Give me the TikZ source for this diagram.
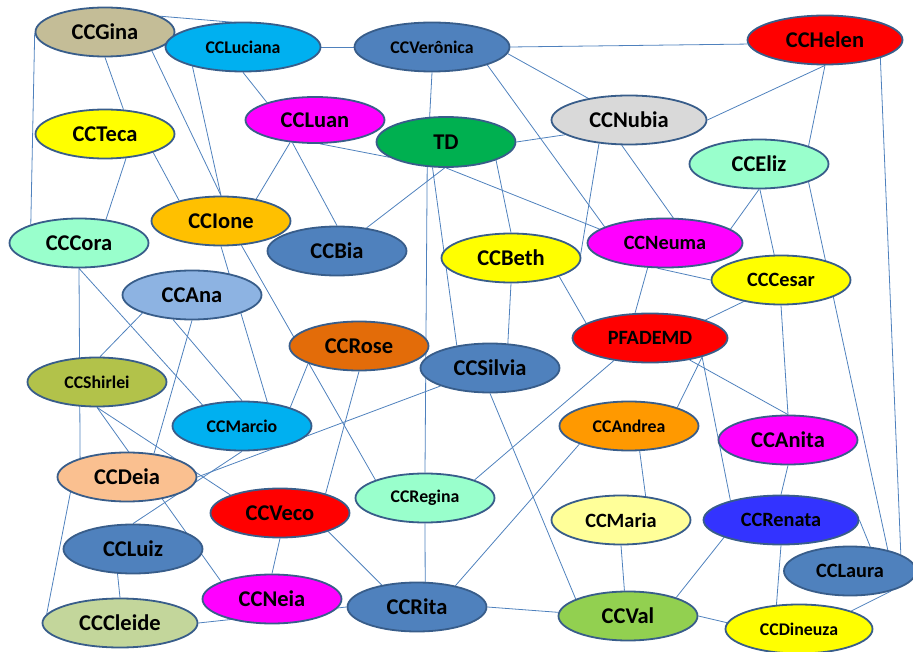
\documentclass[tikz,border=0pt]{standalone}
\usepackage{fontspec}
\setmainfont{Carlito}
\usetikzlibrary{shapes.geometric,backgrounds}
\definecolor{rim}{HTML}{385D8A}
\definecolor{wire}{HTML}{4F81BD}
\definecolor{cTan}{HTML}{C4BD97}
\definecolor{cSky}{HTML}{00B0F0}
\definecolor{cSteel}{HTML}{4F81BD}
\definecolor{cRed}{HTML}{FF0000}
\definecolor{cYellow}{HTML}{FFFF00}
\definecolor{cMagenta}{HTML}{FF00FF}
\definecolor{cGreen}{HTML}{00B050}
\definecolor{cGray}{HTML}{D9D9D9}
\definecolor{cMint}{HTML}{99FFCC}
\definecolor{cGold}{HTML}{FFC000}
\definecolor{cPale}{HTML}{8DB3E2}
\definecolor{cRust}{HTML}{E36C09}
\definecolor{cOlive}{HTML}{B2C24A}
\definecolor{cOrange}{HTML}{FF9900}
\definecolor{cPeach}{HTML}{FAC090}
\definecolor{cCream}{HTML}{FFFF99}
\definecolor{cBlue}{HTML}{3333FF}
\definecolor{cLime}{HTML}{92D050}
\definecolor{cSage}{HTML}{C3D69B}

\begin{document}
\begin{tikzpicture}[x=1pt,y=-1pt,
    main node/.style={ellipse,draw=rim,line width=1.8pt,inner sep=0pt,
      minimum width=139pt,minimum height=49pt,
      font=\bfseries\fontsize{22.5}{26}\selectfont},
    mid/.style={font=\bfseries\fontsize{20.3}{24}\selectfont},
    small/.style={font=\bfseries\fontsize{17.8}{21}\selectfont},
    wide/.style={minimum width=155pt},
    link/.style={draw=wire,line width=0.8pt}]
  \useasboundingbox (0,0) rectangle (913,652);
  % Nodes
  \node[main node, fill=cTan] (Gina) at (105,32) {CCGina};
  \node[main node, small, wide, fill=cSky] (Luciana) at (243,47) {CCLuciana};
  \node[main node, small, wide, fill=cSteel] (Veronica) at (432,47) {CCVerônica};
  \node[main node, wide, fill=cRed] (Helen) at (825,40) {CCHelen};
  \node[main node, fill=cYellow] (Teca) at (105,134) {CCTeca};
  \node[main node, fill=cMagenta, minimum height=46pt] (Luan) at (315,120) {CCLuan};
  \node[main node, fill=cGreen, minimum height=50pt] (TD) at (446,142) {TD};
  \node[main node, wide, fill=cGray] (Nubia) at (629,120) {CCNubia};
  \node[main node, fill=cMint] (Eliz) at (759,164) {CCEliz};
  \node[main node, fill=cMint] (Cora) at (79,243) {CCCora};
  \node[main node, fill=cGold] (Ione) at (221,221) {CCIone};
  \node[main node, fill=cSteel] (Bia) at (337,251) {CCBia};
  \node[main node, fill=cYellow] (Beth) at (511,258) {CCBeth};
  \node[main node, mid, wide, fill=cMagenta] (Neuma) at (665,243) {CCNeuma};
  \node[main node, mid, fill=cYellow] (Cesar) at (781,280) {CCCesar};
  \node[main node, fill=cPale] (Ana) at (192,295) {CCAna};
  \node[main node, mid, wide, fill=cRed] (PF) at (650,338) {PFADEMD};
  \node[main node, fill=cRust] (Rose) at (359,346) {CCRose};
  \node[main node, fill=cSteel] (Silvia) at (490,368) {CCSilvia};
  \node[main node, small, fill=cOlive] (Shirlei) at (97,382) {CCShirlei};
  \node[main node, small, fill=cSky] (Marcio) at (242,426) {CCMarcio};
  \node[main node, small, fill=cOrange] (Andrea) at (629,426) {CCAndrea};
  \node[main node, fill=cMagenta] (Anita) at (788,440) {CCAnita};
  \node[main node, fill=cPeach] (Deia) at (127,477) {CCDeia};
  \node[main node, fill=cRed] (Veco) at (280,513) {CCVeco};
  \node[main node, small, fill=cMint] (Regina) at (425,498) {CCRegina};
  \node[main node, mid, fill=cCream] (Maria) at (621,520) {CCMaria};
  \node[main node, mid, wide, fill=cBlue] (Renata) at (781,520) {CCRenata};
  \node[main node, fill=cSteel] (Luiz) at (133,549) {CCLuiz};
  \node[main node, mid, fill=cSteel, minimum width=132pt] (Laura) at (850,571) {CCLaura};
  \node[main node, fill=cMagenta] (Neia) at (272,599) {CCNeia};
  \node[main node, fill=cSteel] (Rita) at (417,607) {CCRita};
  \node[main node, fill=cLime] (Val) at (628,616) {CCVal};
  \node[main node, wide, fill=cSage] (Cleide) at (120,623) {CCCleide};
  \node[main node, small, fill=cYellow, minimum width=147pt] (Dineuza) at (799,629) {CCDineuza};

  % Edges
  \begin{scope}[on background layer]
  \draw[link] (Gina.16) -- (Luciana.22);
  \draw[link] (Gina.181) -- (Cora.159);
  \draw[link] (Gina.south) -- (Teca.53);
  \draw[link] (Gina.-22) -- (Ione.north);
  \draw[link] (Luciana.201) -- (Ione.north);
  \draw[link] (Teca.-49) -- (Cora.41);
  \draw[link] (Teca.-21) -- (Ione.154);
  \draw[link] (Luciana.east) -- (Veronica.west);
  \draw[link] (Luciana.south) -- (Luan.160);
  \draw[link] (Veronica.south) -- (TD.123);
  \draw[link] (Luan.222) -- (Ione.32);
  \draw[link] (Luan.225) -- (Bia.north);
  \draw[link] (Luan.-78) -- (TD.195);
  \draw[link] (TD.south) -- (Neuma.168);
  \draw[link] (TD.-93) -- (Bia.38);
  \draw[link] (TD.233) -- (Regina.north);
  \draw[link] (TD.242) -- (Silvia.146);
  \draw[link] (TD.east) -- (Nubia.193);
  \draw[link] (TD.-20) -- (Beth.north);
  \draw[link] (Veronica.east) -- (Helen.183);
  \draw[link] (Veronica.-5) -- (Nubia.152);
  \draw[link] (Veronica.-18) -- (Neuma.165);
  \draw[link] (Nubia.218) -- (Beth.3);
  \draw[link] (Nubia.254) -- (Neuma.72);
  \draw[link] (Helen.south) -- (Nubia.east);
  \draw[link] (Helen.south) -- (Eliz.20);
  \draw[link] (Helen.-18) -- (Laura.18);
  \draw[link] (Eliz.south) -- (Neuma.12);
  \draw[link] (Eliz.-88) -- (Cesar.105);
  \draw[link] (Eliz.-20) -- (Laura.29);
  \draw[link] (Neuma.254) -- (Cesar.west);
  \draw[link] (Cesar.210) -- (PF.18);
  \draw[link] (Cesar.south) -- (Anita.north);
  \draw[link] (PF.-29) -- (Anita.north);
  \draw[link] (PF.-20) -- (Andrea.21);
  \draw[link] (PF.-20) -- (Renata.159);
  \draw[link] (Neuma.235) -- (PF.121);
  \draw[link] (Beth.-21) -- (PF.167);
  \draw[link] (Beth.south) -- (Silvia.54);
  \draw[link] (PF.212) -- (Regina.20);
  \draw[link] (Silvia.south) -- (Val.162);
  \draw[link] (Andrea.200) -- (Rita.29);
  \draw[link] (Andrea.-67) -- (Maria.44);
  \draw[link] (Maria.south) -- (Val.98);
  \draw[link] (Rita.east) -- (Val.177);
  \draw[link] (Val.21) -- (Renata.197);
  \draw[link] (Val.east) -- (Dineuza.175);
  \draw[link] (Anita.south) -- (Renata.north);
  \draw[link] (Renata.south) -- (Dineuza.133);
  \draw[link] (Renata.east) -- (Laura.50);
  \draw[link] (Laura.-26) -- (Dineuza.19);
  \draw[link] (Cora.south) -- (Deia.158);
  \draw[link] (Cora.south) -- (Marcio.152);
  \draw[link] (Ana.200) -- (Shirlei.83);
  \draw[link] (Ana.south) -- (Deia.41);
  \draw[link] (Ana.232) -- (Marcio.north);
  \draw[link] (Ione.south) -- (Marcio.43);
  \draw[link] (Ione.-50) -- (Regina.160);
  \draw[link] (Rose.199) -- (Marcio.21);
  \draw[link] (Rose.south) -- (Veco.23);
  \draw[link] (Deia.east) -- (Silvia.200);
  \draw[link] (Luiz.north) -- (Marcio.south);
  \draw[link] (Shirlei.south) -- (Neia.161);
  \draw[link] (Shirlei.south) -- (Veco.160);
  \draw[link] (Deia.195) -- (Cleide.173);
  \draw[link] (Luiz.238) -- (Cleide.north);
  \draw[link] (Cleide.east) -- (Rita.west);
  \draw[link] (Veco.south) -- (Neia.north);
  \draw[link] (Veco.-21) -- (Rita.148);
  \draw[link] (Regina.south) -- (Rita.72);
  \end{scope}
\end{tikzpicture}
\end{document}
